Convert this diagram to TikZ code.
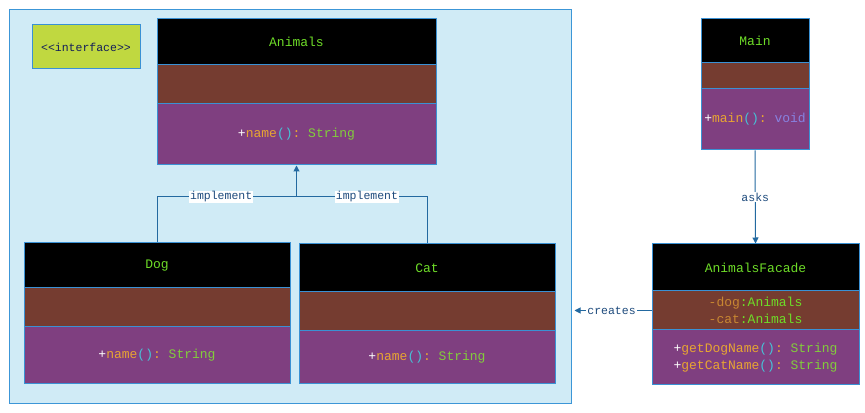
\documentclass[tikz,border=0pt]{standalone}
\usepackage{fontspec}
\setmonofont{Liberation Mono}
\usetikzlibrary{arrows.meta}
\definecolor{pkgfill}{RGB}{208,235,246}
\definecolor{pkgline}{RGB}{60,150,215}
\definecolor{boxline}{RGB}{58,145,212}
\definecolor{attrbrown}{RGB}{117,60,48}
\definecolor{opspurple}{RGB}{127,63,128}
\definecolor{ifacegreen}{RGB}{192,216,64}
\definecolor{ifacetext}{RGB}{20,30,90}
\definecolor{namegreen}{RGB}{110,220,40}
\definecolor{opname}{RGB}{232,165,50}
\definecolor{parencol}{RGB}{70,195,215}
\definecolor{typegreen}{RGB}{130,205,60}
\definecolor{voidcol}{RGB}{135,130,225}
\definecolor{fieldcol}{RGB}{200,135,50}
\definecolor{connline}{RGB}{35,105,160}
\definecolor{lbltext}{RGB}{30,75,125}
\newcommand{\opline}[2]{\textcolor{white}{+}\textcolor{opname}{#1}\textcolor{parencol}{()}\textcolor{opname}{:} \textcolor{#2}}
\newcommand{\fieldline}[2]{\textcolor{fieldcol}{-#1}\textcolor{namegreen}{:#2}}
\begin{document}
\begin{tikzpicture}[font=\ttfamily\fontsize{13bp}{16.5bp}\selectfont,
  part/.style={draw=boxline,line width=1bp,inner sep=0pt,align=center},
  head/.style={part,fill=black,text=namegreen},
  attr/.style={part,fill=attrbrown},
  ops/.style={part,fill=opspurple},
  conn/.style={draw=connline,line width=1bp},
  tip/.style={-{Triangle[length=6bp,width=6bp]}},
  lbl/.style={fill=white,text=lbltext,inner sep=1bp,font=\ttfamily\fontsize{11.5bp}{13bp}\selectfont}]
  \useasboundingbox (0bp,0bp) rectangle (865bp,413bp);
  \node (Pkg) at (290bp,206bp) [draw=pkgline,fill=pkgfill,line width=1bp,minimum width=562bp,minimum height=394bp] {};
  \node (Iface) at (86bp,366bp) [draw=boxline,fill=ifacegreen,text=ifacetext,line width=1bp,minimum width=108bp,minimum height=44bp,inner sep=0pt,font=\ttfamily\fontsize{11.5bp}{13bp}\selectfont] {<{}<interface>{}>};
  % Animals
  \node (Animals) at (296.5bp,371bp) [head,minimum width=279bp,minimum height=46bp] {Animals};
  \node (Animals-attr) at (296.5bp,328.5bp) [attr,minimum width=279bp,minimum height=39bp] {};
  \node (Animals-ops) at (296.5bp,278.5bp) [ops,minimum width=279bp,minimum height=61bp] {\opline{name}{typegreen}{String}};
  % Dog
  \node (Dog) at (157bp,147.5bp) [head,minimum width=266bp,minimum height=45bp] {Dog};
  \node (Dog-attr) at (157bp,105.5bp) [attr,minimum width=266bp,minimum height=39bp] {};
  \node (Dog-ops) at (157bp,57.5bp) [ops,minimum width=266bp,minimum height=57bp] {\opline{name}{typegreen}{String}};
  % Cat
  \node (Cat) at (427bp,145bp) [head,minimum width=256bp,minimum height=48bp] {Cat};
  \node (Cat-attr) at (427bp,101.5bp) [attr,minimum width=256bp,minimum height=39bp] {};
  \node (Cat-ops) at (427bp,55.5bp) [ops,minimum width=256bp,minimum height=53bp] {\opline{name}{typegreen}{String}};
  % Main
  \node (Main) at (755bp,372bp) [head,minimum width=108bp,minimum height=44bp] {Main};
  \node (Main-attr) at (755bp,337bp) [attr,minimum width=108bp,minimum height=26bp] {};
  \node (Main-ops) at (755bp,293.5bp) [ops,minimum width=108bp,minimum height=61bp] {\opline{main}{voidcol}{void}};
  % AnimalsFacade
  \node (Facade) at (755.5bp,145.5bp) [head,minimum width=207bp,minimum height=47bp] {AnimalsFacade};
  \node (Facade-attr) at (755.5bp,102.5bp) [attr,minimum width=207bp,minimum height=39bp] {\fieldline{dog}{Animals}\\\fieldline{cat}{Animals}};
  \node (Facade-ops) at (755.5bp,55.5bp) [ops,minimum width=207bp,minimum height=55bp] {\opline{getDogName}{typegreen}{String}\\\opline{getCatName}{typegreen}{String}};
  \coordinate (joint) at (296.5bp,216bp);
  \draw [conn] (Dog.north) |- node [lbl,pos=0.73] {implement} (joint);
  \draw [conn] (Cat.north) |- node [lbl,pos=0.73] {implement} (joint);
  \draw [conn,tip] (joint) -- (Animals-ops.south);
  \draw [conn,tip] (Main-ops.south) -- node [lbl] {asks} (Facade.north);
  \draw [conn,tip,shorten >=3bp] (Facade-attr.west) -- node [lbl] {creates} (Facade-attr.west -| Pkg.east);
\end{tikzpicture}
\end{document}
